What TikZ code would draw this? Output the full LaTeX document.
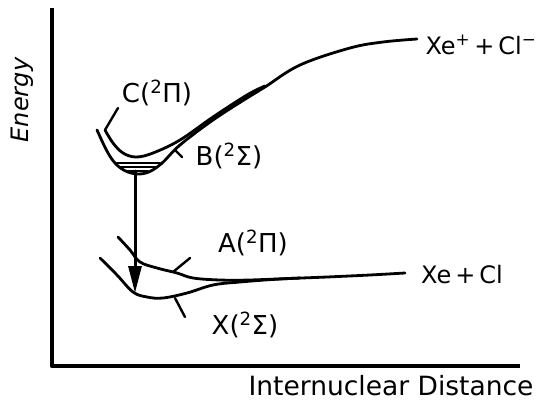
\documentclass[tikz,border=0pt]{standalone}
\usepackage{fontspec}
\setmainfont{DejaVu Sans}
\usetikzlibrary{arrows.meta}

\begin{document}
\begin{tikzpicture}[x=1pt, y=-1pt, line cap=round, line join=round,
    pcurve/.style={line width=2.8pt},
    lbl/.style={font=\fontsize{26}{28}\selectfont, inner sep=0pt},
    leader/.style={line width=2.4pt}]
  \useasboundingbox (0,0) rectangle (536,405);

  % axes
  \draw[line width=4.5pt, line cap=butt] (52,8) -- (52,366) -- (520,366);
  \node[lbl, rotate=90, font=\itshape\fontsize{24}{26}\selectfont] (elbl) at (22,100) {Energy};
  \node[lbl, font=\fontsize{26.5}{28}\selectfont] (dlbl) at (391,386) {Internuclear Distance};

  % upper states C and B, merging into the ion pair limit
  \draw[pcurve] plot[smooth, tension=0.6] coordinates {(105,130) (113,143) (123,153) (136,157) (153,153) (180,140) (213,117) (247,95) (265,86)};
  \draw[pcurve] plot[smooth, tension=0.6] coordinates {(97,130) (108,153) (118,166) (131,173) (146,173) (161,164) (180,145) (213,120) (247,98) (265,87) (300,65) (350,48) (383,42) (417,39)};

  % vibrational levels in B
  \draw[line width=2pt] (116,163) -- (160,163);
  \draw[line width=2pt] (121,167) -- (156,167);
  \draw[line width=2pt] (127,171) -- (148,171);

  % lower states A and X, merging into the neutral limit
  \draw[pcurve] plot[smooth, tension=0.6] coordinates {(100,258) (117,275) (133,292) (147,297) (163,298) (187,293) (213,285) (240,282) (280,279) (327,277) (370,275) (405,273)};
  \draw[pcurve] plot[smooth, tension=0.6] coordinates {(118,237) (130,250) (140,262) (157,268) (177,273) (193,278) (220,280) (250,280) (300,278)};

  % emission arrow
  \coordinate (vtop) at (135,171);
  \coordinate (vbot) at (135,293);
  \draw[line width=3pt, -{Triangle[length=27pt,width=13pt]}] (vtop) -- (vbot);

  % labels and leaders
  \node[lbl] (clbl) at (157,93) {C(\textsuperscript{2}Π)};
  \node[lbl] (blbl) at (229,156) {B(\textsuperscript{2}Σ)};
  \node[lbl] (albl) at (253,243) {A(\textsuperscript{2}Π)};
  \node[lbl] (xlbl) at (245,325) {X(\textsuperscript{2}Σ)};
  \node[lbl, font=\fontsize{24}{26}\selectfont] (nlbl) at (462,275) {Xe\,+\,Cl};
  \node[lbl, font=\fontsize{24}{26}\selectfont] (ilbl) at (481,45) {Xe\textsuperscript{+}\,+\,Cl\textsuperscript{−}};

  \coordinate (cA) at (118,108); \coordinate (cB) at (105,130);
  \coordinate (bA) at (175,150); \coordinate (bB) at (182,157);
  \coordinate (aA) at (190,258); \coordinate (aB) at (173,272);
  \coordinate (xA) at (175,298); \coordinate (xB) at (185,317);
  \draw[leader] (cA) -- (cB);
  \draw[leader] (bA) -- (bB);
  \draw[leader] (aA) -- (aB);
  \draw[leader] (xA) -- (xB);
\end{tikzpicture}
\end{document}
